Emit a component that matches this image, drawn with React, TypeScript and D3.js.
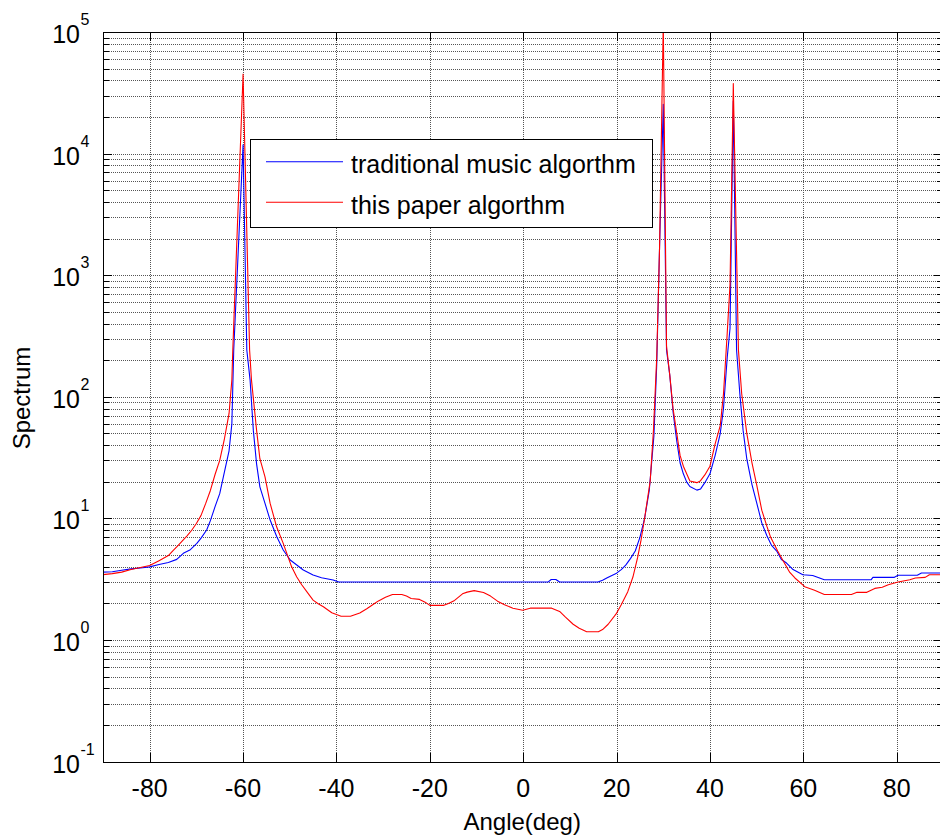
import React from 'react';
import * as d3 from 'd3';

// traditional MUSIC algorithm spectrum: [angle(deg), spectrum]
const traditionalMusic: [number, number][] = [
  [-90, 3.62], [-88, 3.65], [-86, 3.75], [-84, 3.85], [-82, 3.92], [-80, 4.0], [-78, 4.18], [-76, 4.35],
  [-74.2, 4.61], [-72.8, 5.17], [-71.4, 5.5], [-69.9, 6.24], [-69, 6.9], [-67.8, 8.03], [-67, 9.6],
  [-66, 12.5], [-65, 16], [-64, 24], [-63, 36], [-62.4, 60], [-62, 243], [-60, 11800], [-59.2, 243],
  [-58.5, 138], [-57.8, 53], [-57.1, 28], [-56.4, 18.2], [-55.3, 13.3], [-54.2, 9.7], [-52.8, 7.1],
  [-51.4, 5.5], [-49.9, 4.55], [-48.5, 4.14], [-47.1, 3.77], [-45, 3.43], [-43.2, 3.26], [-40.7, 3.12],
  [-39.5, 3.0], [5.3, 3.0], [6, 3.15], [7, 3.15], [7.8, 3.0], [16, 3.0], [17, 3.1], [18, 3.25],
  [19, 3.4], [20, 3.55], [21, 3.8], [22, 4.15], [23, 4.7], [24, 5.4], [25, 7.0], [26, 10], [27, 17],
  [28, 48], [28.6, 185], [29.2, 1660], [30, 25400], [30.7, 243], [31.4, 150], [32.1, 75], [32.9, 43],
  [33.6, 28.7], [34.3, 23.3], [35, 20], [35.7, 18.3], [37.2, 17.1], [38, 17.5], [38.9, 19.7], [40, 23.3],
  [41.1, 32.9], [42.2, 49.8], [42.9, 80.5], [43.7, 211], [44.3, 366], [45, 27100], [45.7, 243],
  [46.4, 106], [47.1, 53], [47.9, 30.7], [49, 19], [50, 13.5], [51.1, 9.2], [52.2, 7.2], [53.2, 6.0],
  [54.3, 5.4], [55.3, 4.6], [56.4, 4.3], [57.8, 3.8], [59.9, 3.45], [62, 3.4], [64.5, 3.13], [74.5, 3.13],
  [74.9, 3.28], [79.5, 3.28], [80.3, 3.41], [84.4, 3.41], [85.3, 3.56], [90, 3.56],
];

// this paper algorithm spectrum: [angle(deg), spectrum]
const thisPaper: [number, number][] = [
  [-90, 3.45], [-88, 3.52], [-86, 3.62], [-84, 3.8], [-82, 3.95], [-80, 4.1], [-78, 4.5], [-76, 4.95],
  [-75, 5.45], [-74, 5.95], [-73, 6.55], [-72, 7.2], [-71, 8.0], [-70, 9.1], [-69, 10.6], [-68, 13.3],
  [-67, 17], [-66, 23], [-65, 30], [-64, 45], [-63, 73], [-62.4, 138], [-62.2, 243], [-60, 45000],
  [-58.6, 243], [-58.2, 138], [-57.1, 53], [-56.4, 31], [-55.3, 22], [-54.2, 13.3], [-52.8, 8.5],
  [-51.4, 6.24], [-49.6, 4.0], [-48.5, 3.3], [-47.4, 2.84], [-46, 2.4], [-45, 2.13], [-44, 2.0],
  [-42.8, 1.88], [-41, 1.68], [-40, 1.62], [-39, 1.57], [-37, 1.57], [-35, 1.67], [-33.5, 1.81],
  [-32, 1.98], [-31, 2.1], [-29.5, 2.25], [-28, 2.37], [-26, 2.37], [-25, 2.3], [-24, 2.2], [-22.2, 2.16],
  [-21, 2.05], [-20, 1.93], [-17, 1.93], [-16, 2.0], [-14.7, 2.12], [-13, 2.4], [-12, 2.48], [-10.5, 2.55],
  [-8.5, 2.46], [-7, 2.3], [-5.5, 2.09], [-4, 1.95], [-2.2, 1.83], [-0.1, 1.76], [1.5, 1.83], [6.1, 1.83],
  [7.8, 1.72], [9, 1.55], [10.7, 1.35], [12, 1.25], [13.6, 1.17], [16.1, 1.17], [17, 1.22], [18.2, 1.35],
  [19.9, 1.64], [21, 1.95], [22.4, 2.5], [23.5, 3.3], [24.5, 4.76], [25.2, 6.5], [26, 10], [27.2, 20.3],
  [27.9, 53], [28.6, 211], [29.2, 1660], [30, 120000], [30.7, 260], [31.4, 150], [32.1, 80], [32.9, 49.8],
  [33.6, 33], [34.3, 26.9], [35.7, 20.3], [37.2, 19.7], [37.9, 20.3], [38.9, 22.8], [40, 26.9], [41.1, 40.9],
  [42.2, 58], [42.9, 106], [43.7, 335], [44.3, 840], [45, 37700], [46.1, 243], [46.8, 106], [47.9, 49.8],
  [49, 28.7], [50, 19], [51.1, 11.7], [52.2, 8.6], [53, 7.0], [54.5, 5.4], [55.7, 4.47], [57.1, 3.6],
  [58.2, 3.24], [60.3, 2.75], [62.4, 2.57], [64.5, 2.37], [70.3, 2.37], [71.5, 2.47], [73.6, 2.47],
  [75.3, 2.66], [76.9, 2.72], [78.2, 2.85], [80.3, 3.0], [82.8, 3.13], [84, 3.24], [86.1, 3.28], [87, 3.45],
  [90, 3.45],
];

const xTickValues = [-80, -60, -40, -20, 0, 20, 40, 60, 80];
const yDecadeExponents = [-1, 0, 1, 2, 3, 4, 5];
const legendLabels = ['traditional music algorthm', 'this paper algorthm'];
const seriesColors = ['#0000ff', '#ff0000'];
const xAxisTitle = 'Angle(deg)';
const yAxisTitle = 'Spectrum';

const FONT = '"Liberation Sans", Arial, Helvetica, sans-serif';

export default function App() {
  const W = 940;
  const H = 837;
  const left = 103;
  const right = 943.4;
  const top = 32;
  const bottom = 761.7;

  const x = d3.scaleLinear().domain([-90, 90]).range([left, right]);
  const y = d3.scaleLog().domain([0.1, 1e5]).range([bottom, top]);
  const allYTicks = y.ticks();
  const isDecade = (v: number) => Math.abs(Math.log10(v) - Math.round(Math.log10(v))) < 1e-9;

  const line = d3
    .line<[number, number]>()
    .x((d) => x(d[0]))
    .y((d) => y(d[1]));

  const series = [traditionalMusic, thisPaper];
  const px = (v: number) => Math.round(v) + 0.5;

  const legend = { x: 250, y: 139, w: 402, h: 88 };

  return (
    <svg
      width={W}
      height={H}
      viewBox={`0 0 ${W} ${H}`}
      style={{ position: 'absolute', left: 0, top: 0, background: '#fff' }}
    >
      <defs>
        <clipPath id="plotClip">
          <rect x={left} y={top} width={right - left} height={bottom - top} />
        </clipPath>
      </defs>
      <rect x={0} y={0} width={W} height={H} fill="#fff" />

      {/* grid */}
      <g stroke="#555" strokeWidth={1} strokeDasharray="1 1" shapeRendering="crispEdges">
        {allYTicks.map((t, i) => (
          <line key={`gy${i}`} x1={left} x2={right} y1={px(y(t))} y2={px(y(t))} />
        ))}
        {xTickValues.map((t) => (
          <line key={`gx${t}`} x1={px(x(t))} x2={px(x(t))} y1={top} y2={bottom} />
        ))}
      </g>

      {/* curves */}
      <g clipPath="url(#plotClip)" fill="none" strokeWidth={1.1} strokeLinejoin="round">
        {series.map((s, i) => (
          <path key={`s${i}`} d={line(s) || ''} stroke={seriesColors[i]} />
        ))}
      </g>

      {/* axes box and ticks */}
      <g stroke="#000" strokeWidth={1} shapeRendering="crispEdges" fill="none">
        <line x1={left} x2={right} y1={px(top)} y2={px(top)} />
        <line x1={left} x2={right} y1={px(bottom)} y2={px(bottom)} />
        <line x1={px(left)} x2={px(left)} y1={top} y2={bottom} />
        <line x1={px(right)} x2={px(right)} y1={top} y2={bottom} />
        {xTickValues.map((t) => (
          <g key={`xt${t}`}>
            <line x1={px(x(t))} x2={px(x(t))} y1={bottom} y2={bottom - 9} />
            <line x1={px(x(t))} x2={px(x(t))} y1={top} y2={top + 9} />
          </g>
        ))}
        {allYTicks.map((t, i) => {
          const len = isDecade(t) ? 9 : 6;
          return (
            <g key={`yt${i}`}>
              <line x1={left} x2={left + len} y1={px(y(t))} y2={px(y(t))} />
              <line x1={right} x2={right - len} y1={px(y(t))} y2={px(y(t))} />
            </g>
          );
        })}
      </g>

      {/* tick labels */}
      <g fontFamily={FONT} fill="#000">
        {xTickValues.map((t) => (
          <text key={`xl${t}`} x={x(t)} y={bottom + 35} fontSize={25} textAnchor="middle">
            {t}
          </text>
        ))}
        {yDecadeExponents.map((e) => {
          const yy = y(Math.pow(10, e));
          return (
            <g key={`yl${e}`}>
              <text x={80} y={yy + 11} fontSize={25} textAnchor="end">
                10
              </text>
              <text x={80.5} y={yy - 7} fontSize={16} textAnchor="start">
                {e}
              </text>
            </g>
          );
        })}
      </g>

      {/* axis titles */}
      <text x={(left + right) / 2 - 1} y={830} fontFamily={FONT} fontSize={24} textAnchor="middle">
        {xAxisTitle}
      </text>
      <text
        transform="translate(30, 398) rotate(-90)"
        fontFamily={FONT}
        fontSize={24}
        textAnchor="middle"
      >
        {yAxisTitle}
      </text>

      {/* legend */}
      <g>
        <rect
          x={legend.x + 0.5}
          y={legend.y + 0.5}
          width={legend.w}
          height={legend.h}
          fill="#fff"
          stroke="#000"
          strokeWidth={1}
          shapeRendering="crispEdges"
        />
        {legendLabels.map((lab, i) => {
          const ly = legend.y + 22.7 + i * 40.6;
          return (
            <g key={`lg${i}`}>
              <line x1={266} x2={343} y1={ly} y2={ly} stroke={seriesColors[i]} strokeWidth={1.1} />
              <text x={351} y={ly + 11.5} fontFamily={FONT} fontSize={25} fill="#000">
                {lab}
              </text>
            </g>
          );
        })}
      </g>
    </svg>
  );
}
